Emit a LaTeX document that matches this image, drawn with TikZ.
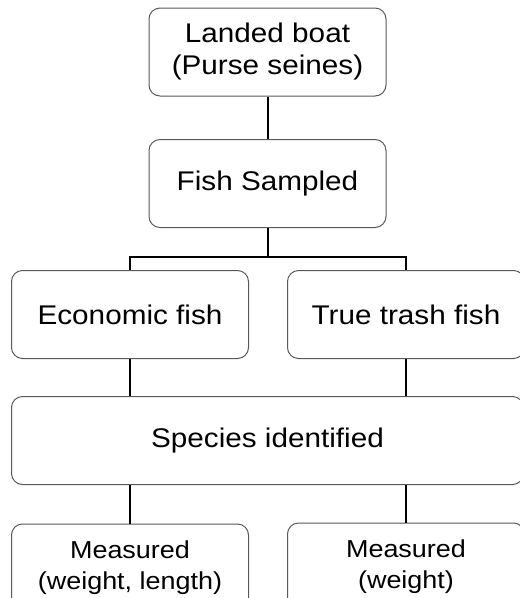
\documentclass[tikz,border=0pt]{standalone}
\usepackage{fontspec}
\setmainfont{Liberation Sans}[FakeStretch=1.1]
\usepackage{tikz}
\usetikzlibrary{calc}
\usetikzlibrary{positioning}

\begin{document}
\begin{tikzpicture}[x=1pt, y=-1pt,
		stagebox/.style={draw=black!65, line width=1pt, rounded corners=11pt, align=center, inner sep=0pt,
			minimum width=237pt, minimum height=88pt, font=\fontsize{27}{32}\selectfont},
		measbox/.style={stagebox, font=\fontsize{24.5}{31}\selectfont},
		link/.style={draw=black, line width=2pt}]
			\useasboundingbox (0, 0) rectangle (520, 598);
			\node[stagebox] (boat) at (267.5, 52) {Landed boat\\(Purse seines)};
			\node[stagebox] (sampled) at (267.5, 183.5) {Fish Sampled};
			\node[stagebox] (econ) at (130, 314.5) {Economic fish};
			\node[stagebox] (trash) at (406, 314.5) {True trash fish};
			\node[stagebox, minimum width=512pt] (species) at (267.5, 440.5) {Species identified};
			\node[measbox] (measA) at (130, 568) {Measured\\(weight, length)};
			\node[measbox] (measB) at (406, 567) {Measured\\(weight)};
			\coordinate (fork) at (267.5, 257);
			\draw[link] (boat) -- (sampled);
			\draw[link] (sampled) -- (fork);
			\draw[link] (econ.north) |- (fork) -| (trash.north);
			\draw[link] (econ) -- (econ.south |- species.north);
			\draw[link] (trash) -- (trash.south |- species.north);
			\draw[link] (measA.north |- species.south) -- (measA);
			\draw[link] (measB.north |- species.south) -- (measB);
		\end{tikzpicture}
\end{document}
